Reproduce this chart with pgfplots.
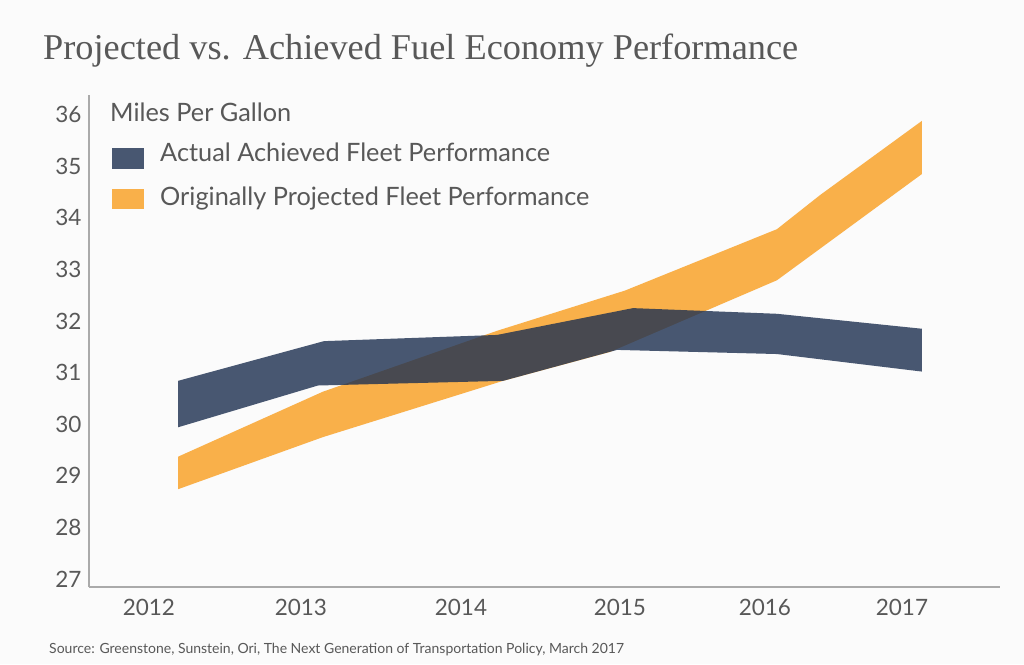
\documentclass[border=0pt]{standalone}
\usepackage{fontspec}
\setmainfont{Lato}
\newfontfamily\titlefont{Liberation Serif}
\usepackage{pgfplots}
\pgfplotsset{compat=1.18}

\definecolor{navyband}{RGB}{31,50,82}
\definecolor{orangeband}{RGB}{249,176,74}
\definecolor{txt}{RGB}{88,88,88}
\definecolor{axisgray}{RGB}{170,170,170}
\definecolor{bg}{RGB}{251,251,251}

\begin{document}
\begin{tikzpicture}[x=1pt,y=1pt]
\fill[bg] (0,0) rectangle (1024,-664);
\path[use as bounding box] (0,0) rectangle (1024,-664);

\begin{axis}[
    at={(89pt,-587pt)}, anchor=south west,
    scale only axis, width=911pt, height=492pt,
    xmin=2011.602, xmax=2017.651,
    ymin=26.845, ymax=36.38,
    axis x line*=bottom, axis y line*=left,
    axis line style={axisgray, line width=1.4pt},
    major tick length=0pt,
    xtick={2012,2013.009,2014.072,2015.127,2016.090,2017},
    xticklabels={2012,2013,2014,2015,2016,2017},
    ytick={27,28,...,36},
    /pgf/number format/assume math mode=true,
    tick label style={font=\fontsize{22.5}{22.5}\selectfont, text=txt},
    yticklabel style={xshift=-4pt},
    xticklabel style={yshift=-9pt},
]
% originally projected: upper edge left to right, lower edge back
\addplot[fill=orangeband, draw=none] coordinates {
    (2012.193,29.37) (2013.155,30.63) (2014.311,31.81) (2015.161,32.59)
    (2016.170,33.78) (2016.456,34.44) (2017.133,35.88)
    (2017.133,34.85) (2016.170,32.79) (2015.061,31.40) (2014.351,30.84)
    (2013.155,29.75) (2012.193,28.74)
};
% actual achieved
\addplot[fill=navyband, fill opacity=0.81, draw=none] coordinates {
    (2012.193,30.84) (2013.162,31.61) (2014.311,31.73) (2015.214,32.25)
    (2016.170,32.14) (2017.133,31.85)
    (2017.133,31.02) (2016.170,31.36) (2015.108,31.44) (2014.351,30.84)
    (2013.122,30.75) (2012.193,29.94)
};
\end{axis}

\node[anchor=base west, inner sep=0, text=txt, font=\titlefont\fontsize{36.3}{36.3}\selectfont] at (43,-59.5) {Projected vs. Achieved Fuel Economy Performance};
\node[anchor=base west, inner sep=0, text=txt, font=\fontsize{25.3}{25.3}\selectfont] at (110,-121.7) {Miles Per Gallon};
\fill[navyband, fill opacity=0.81] (111.5,-148.3) rectangle (143.7,-169);
\node[anchor=base west, inner sep=0, text=txt, font=\fontsize{25.3}{25.3}\selectfont] at (160,-161.7) {Actual Achieved Fleet Performance};
\fill[orangeband] (111.5,-189) rectangle (143.7,-209.3);
\node[anchor=base west, inner sep=0, text=txt, font=\fontsize{25.3}{25.3}\selectfont] at (160,-205) {Originally Projected Fleet Performance};
\node[anchor=base west, inner sep=0, text=txt, font=\fontsize{14}{14}\selectfont] at (49,-653) {Source: Greenstone, Sunstein, Ori, The Next Generation of Transportation Policy, March 2017};
\end{tikzpicture}
\end{document}
